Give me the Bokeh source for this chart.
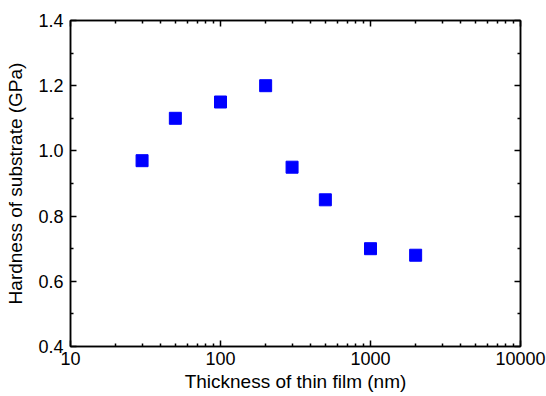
from bokeh.plotting import figure
from bokeh.models import LogAxis, LinearAxis, FixedTicker, PrintfTickFormatter, Range1d
from bokeh.embed import file_html
from bokeh.resources import INLINE

thickness = [30, 50, 100, 200, 300, 500, 1000, 2000]
hardness = [0.97, 1.10, 1.15, 1.20, 0.95, 0.85, 0.70, 0.68]
x_major = [10, 100, 1000, 10000]
x_minor = [v * m for v in [10, 100, 1000] for m in range(2, 10)]
y_major = [0.4, 0.6, 0.8, 1.0, 1.2, 1.4]
y_minor = [0.5, 0.7, 0.9, 1.1, 1.3]

FONT = "Liberation Sans"

p = figure(width=546, height=394, x_axis_type="log",
           x_range=Range1d(10, 10000), y_range=Range1d(0.4, 1.4),
           output_backend="svg", toolbar_location=None,
           min_border_left=70, min_border_right=26, min_border_top=20, min_border_bottom=47)
p.grid.visible = False
p.outline_line_color = "black"
p.outline_line_width = 1.5
p.background_fill_color = "white"
p.border_fill_color = "white"

p.scatter(thickness, hardness, marker="square", size=12, color="#0000ff", line_color="#0000ff")

xt = FixedTicker(ticks=x_major, minor_ticks=x_minor)
yt = FixedTicker(ticks=y_major, minor_ticks=y_minor)

def style(ax, labels=True):
    ax.axis_line_width = 1.5
    ax.axis_line_color = "black"
    ax.major_tick_in = 6
    ax.major_tick_out = 0
    ax.minor_tick_in = 3
    ax.minor_tick_out = 0
    ax.major_tick_line_width = 1.5
    ax.minor_tick_line_width = 1.5
    ax.major_label_text_font = FONT
    ax.major_label_text_font_size = "18px"
    ax.major_label_text_color = "black"
    ax.axis_label_text_font = FONT
    ax.axis_label_text_font_size = "19px"
    ax.axis_label_text_font_style = "normal"
    ax.axis_label_text_color = "black"
    if not labels:
        ax.major_label_text_font_size = "1px"
        ax.major_label_text_color = None
        ax.major_label_standoff = 0

xa = p.xaxis[0]
xa.ticker = xt
xa.formatter = PrintfTickFormatter(format="%d")
xa.axis_label = "Thickness of thin film (nm)"
style(xa)
xa.major_label_standoff = 5
xa.axis_label_standoff = 3

ya = p.yaxis[0]
ya.ticker = yt
ya.formatter = PrintfTickFormatter(format="%.1f")
ya.axis_label = "Hardness of substrate (GPa)"
style(ya)
ya.major_label_standoff = 7
ya.axis_label_standoff = 9

top = LogAxis(ticker=FixedTicker(ticks=x_major, minor_ticks=x_minor))
style(top, labels=False)
p.add_layout(top, "above")
right = LinearAxis(ticker=FixedTicker(ticks=y_major, minor_ticks=y_minor))
style(right, labels=False)
p.add_layout(right, "right")

open("out.html", "w").write(file_html(p, INLINE))
